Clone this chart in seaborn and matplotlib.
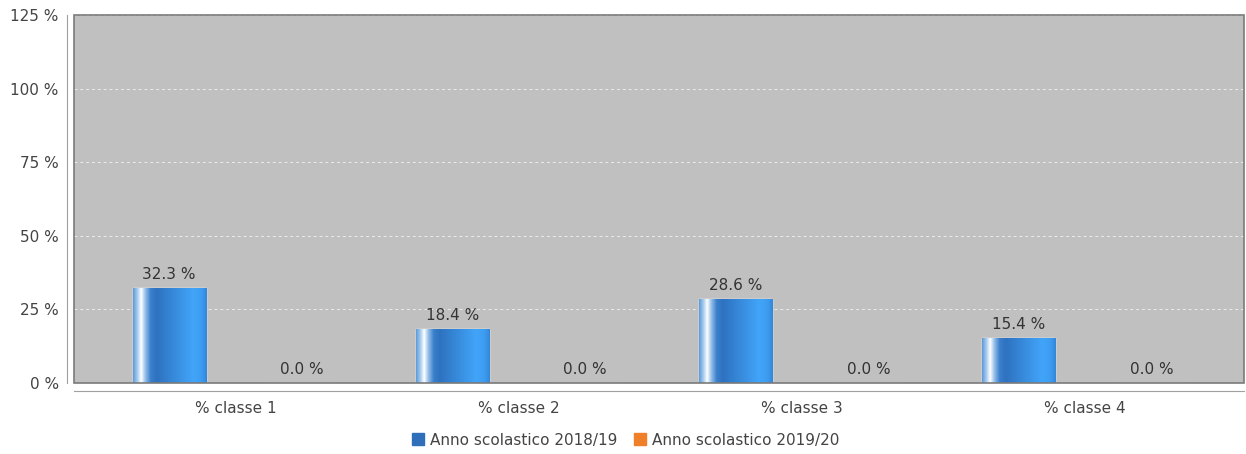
import matplotlib
matplotlib.use("Agg")
import matplotlib.pyplot as plt
import numpy as np
import pandas as pd
import seaborn as sns
from matplotlib.colors import LinearSegmentedColormap
from matplotlib.lines import Line2D
from matplotlib.patches import Rectangle

categories = ["% classe 1", "% classe 2", "% classe 3", "% classe 4"]
series = ["Anno scolastico 2018/19", "Anno scolastico 2019/20"]
values_2018 = [32.3, 18.4, 28.6, 15.4]
values_2019 = [0.0, 0.0, 0.0, 0.0]
y_ticks = [0, 25, 50, 75, 100, 125]

df = pd.DataFrame({
    "categoria": categories * 2,
    "anno": [series[0]] * len(categories) + [series[1]] * len(categories),
    "valore": values_2018 + values_2019,
})

sns.set_style("white")
plt.rcParams["font.family"] = ["DejaVu Sans"]
text_col = "#444444"
axis_col = "#a0a0a0"

fig = plt.figure(figsize=(12.46, 4.54), dpi=100)
ax = fig.add_axes([74 / 1246, 71 / 454, 1170 / 1246, 368 / 454])
ax.set_facecolor("#c0c0c0")

palette = {series[0]: "#2f6fba", series[1]: "#f07f2a"}
sns.barplot(data=df, x="categoria", y="valore", hue="anno", palette=palette,
            width=0.94, gap=0.45, saturation=1, legend=False, ax=ax)

# finto effetto 3D sulle barre
bar_cmap = LinearSegmentedColormap.from_list("bar", [
    (0.0, "#5d9ad8"), (0.06, "#a9cdf0"), (0.11, "#ffffff"), (0.17, "#8fbbe8"),
    (0.24, "#3a7fcc"), (0.32, "#2e72c0"), (0.82, "#42a5fa"), (0.93, "#3d9cf0"),
    (1.0, "#3386d8")])
grad = np.linspace(0, 1, 256).reshape(1, -1)
for p in list(ax.patches):
    h = p.get_height()
    if h > 0:
        x0, w = p.get_x(), p.get_width()
        im = ax.imshow(grad, extent=[x0, x0 + w, 0, h], aspect="auto",
                       cmap=bar_cmap, zorder=p.get_zorder() + 0.1)
        im.set_clip_path(p)
    ax.annotate(f"{h:.1f} %", (p.get_x() + p.get_width() / 2, h),
                xytext=(0, 4), textcoords="offset points", ha="center",
                va="bottom", fontsize=11, color="#333333", zorder=6)

ax.set_xlim(-0.571, 3.562)
ax.set_ylim(0, 125)
ax.set_yticks(y_ticks)
ax.set_yticklabels([f"{t} %" for t in y_ticks])
ax.set_xlabel("")
ax.set_ylabel("")

ax.yaxis.grid(True, color="#ececec", linestyle=(0, (3, 3)), linewidth=0.7)
ax.set_axisbelow(True)

for s in ["top", "right"]:
    ax.spines[s].set_visible(False)
ax.spines["left"].set_position(("outward", 5))
ax.spines["bottom"].set_position(("outward", 6))
ax.spines["left"].set_color(axis_col)
ax.spines["bottom"].set_color(axis_col)
ax.add_patch(Rectangle((0, 0), 1, 1, transform=ax.transAxes, fill=False,
                       edgecolor="#7a7a7a", linewidth=1.2, clip_on=False, zorder=7))

ax.tick_params(axis="both", colors=axis_col, labelcolor=text_col, labelsize=11,
               length=4, width=0.8)
ax.tick_params(axis="y", pad=2)
ax.tick_params(axis="x", pad=3)

handles = [Line2D([], [], marker="s", linestyle="", markersize=8,
                  color=palette[s], label=s) for s in series]
fig.legend(handles=handles, loc="center", bbox_to_anchor=(625 / 1246, 1 - 440 / 454),
           ncol=2, frameon=False, fontsize=11, handletextpad=0.3,
           columnspacing=1.0, handlelength=1.0, labelcolor=text_col)

fig.savefig("out.png", dpi=100)
